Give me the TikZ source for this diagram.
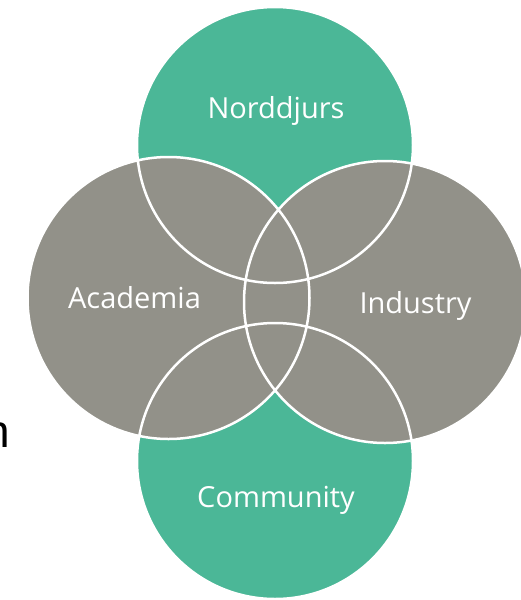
\documentclass[tikz,border=0pt]{standalone}
\usepackage{fontspec}
\setsansfont{Open Sans}
\newfontfamily\edgefont{Liberation Sans}
\definecolor{venngreen}{RGB}{75,183,151}
\definecolor{venngray}{RGB}{146,145,137}

\begin{document}
\begin{tikzpicture}[x=1pt,y=-1pt,
    green set/.style={fill=venngreen},
    gray set/.style={fill=venngray},
    set outline/.style={draw=white,line width=2.5pt},
    set label/.style={text=white,anchor=base,inner sep=0pt,font=\sffamily\fontsize{29}{34}\selectfont}]
  \useasboundingbox (0,0) rectangle (521,600);

  % centres of the four sets
  \coordinate (norddjurs) at (275,145);
  \coordinate (community) at (275,461);
  \coordinate (academia) at (168.5,298);
  \coordinate (industry) at (385,302);

  \path[green set] (norddjurs) circle[radius=138pt];
  \path[green set] (community) circle[radius=138pt];
  \path[gray set] (academia) circle[radius=141pt];
  \path[gray set] (industry) circle[radius=141pt];

  \path[set outline] (norddjurs) circle[radius=138pt]
                     (community) circle[radius=138pt]
                     (academia) circle[radius=141pt]
                     (industry) circle[radius=141pt];

  \node[set label] (lnorddjurs) at (276,118) {Norddjurs};
  \node[set label] (lcommunity) at (276,507) {Community};
  \node[set label] (lacademia) at (134.5,308) {Academia};
  \node[set label] (lindustry) at (415.5,313) {Industry};

  % cut-off text at the left edge
  \node[anchor=base east,inner sep=0pt,font=\edgefont\fontsize{46}{50}\selectfont] (cut) at (10,447) {n};
\end{tikzpicture}
\end{document}
